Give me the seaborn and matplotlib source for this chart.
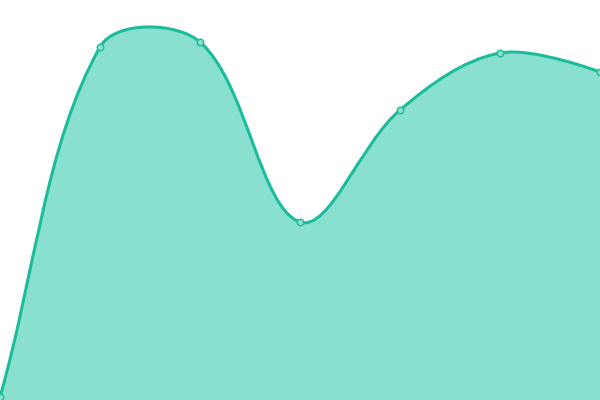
import matplotlib
matplotlib.use('Agg')
import matplotlib.pyplot as plt
from matplotlib.path import Path
from matplotlib.patches import PathPatch
import numpy as np
import pandas as pd
import seaborn as sns

# data
steps = [0, 1, 2, 3, 4, 5, 6]
values = [3, 353, 358, 178, 290, 347, 328]

line_color = '#1abc9c'
fill_color = '#8ae0cf'

def smooth_path(xs, ys, smooth=0.35):
    # bezier through the points, like a "smooth" line chart
    n = len(xs)
    verts = [(xs[0], ys[0])]
    codes = [Path.MOVETO]
    cp0 = (xs[0] + (xs[1] - xs[0]) * smooth, ys[0] + (ys[1] - ys[0]) * smooth)
    for i in range(1, n):
        x, y = xs[i], ys[i]
        px, py = xs[i - 1], ys[i - 1]
        if i == n - 1:
            cp1 = (x, y)
        else:
            nx, ny = xs[i + 1], ys[i + 1]
            vx, vy = nx - px, ny - py
            l0 = np.hypot(x - px, y - py)
            l1 = np.hypot(nx - x, ny - y)
            r = l1 / (l0 + l1)
            cp1 = (x - vx * smooth * (1 - r), y - vy * smooth * (1 - r))
        verts += [cp0, cp1, (x, y)]
        codes += [Path.CURVE4] * 3
        if i < n - 1:
            cp0 = (x + vx * smooth * r, y + vy * smooth * r)
    return verts, codes

df = pd.DataFrame({'x': [s * 100 for s in steps], 'value': values})

fig = plt.figure(figsize=(6, 4), dpi=100)
ax = fig.add_axes([0, 0, 1, 1])

verts, codes = smooth_path(list(df['x']), list(df['value']))
area_verts = verts + [(df['x'].iloc[-1], 0), (df['x'].iloc[0], 0), verts[0]]
area_codes = codes + [Path.LINETO, Path.LINETO, Path.CLOSEPOLY]
ax.add_patch(PathPatch(Path(area_verts, area_codes), facecolor=fill_color, edgecolor='none'))
ax.add_patch(PathPatch(Path(verts, codes), facecolor='none', edgecolor=line_color, lw=2.2))

sns.scatterplot(data=df, x='x', y='value', ax=ax, s=22, color=fill_color,
                edgecolor=line_color, linewidth=1, zorder=3, clip_on=False)

ax.set_xlim(0, 600)
ax.set_ylim(0, 400)
ax.axis('off')
fig.savefig('out.png', dpi=100)
